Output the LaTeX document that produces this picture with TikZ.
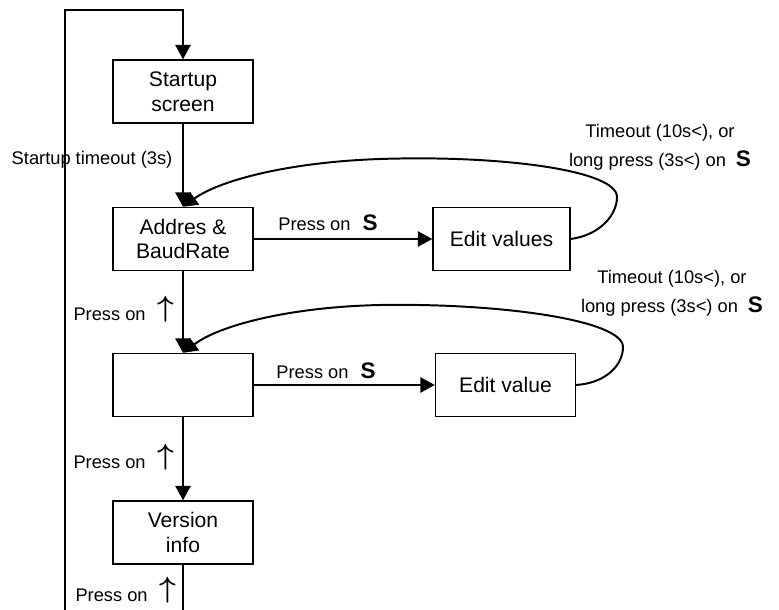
\documentclass[tikz,border=0pt]{standalone}
\usepackage{fontspec}
\setmainfont{Liberation Sans}
\usetikzlibrary{arrows.meta}

\newcommand{\keyS}{{\fontsize{16}{16}\selectfont\bfseries S}}
\newcommand{\keyUp}{\raisebox{3pt}{\fontsize{21}{21}\selectfont\boldmath$\uparrow$}}

\begin{document}
\begin{tikzpicture}[x=0.025cm,y=-0.025cm,
  stbox/.style={minimum width=3.5cm,minimum height=1.575cm,draw,line width=1pt,align=center,font=\fontsize{15}{17.5}\selectfont},
  flow/.style={line width=1.4pt,-{Triangle[length=0.36cm,width=0.38cm]}},
  lbl/.style={font=\fontsize{13}{20.6}\selectfont,inner sep=0pt,align=center}]
\useasboundingbox (0,0) rectangle (779,610);
\draw (183,91.5) node[stbox](start) {Startup\\screen};
\draw (183,239) node[stbox](addr) {Addres \&\\BaudRate};
\draw (501.5,239) node[stbox,minimum width=3.425cm](edit1) {Edit values};
\draw (183,385) node[stbox](mid) {};
\draw (505.5,385) node[stbox](edit2) {Edit value};
\draw (183,532.5) node[stbox](ver) {Version\\info};
\coordinate (botR) at (183,610);
\coordinate (botL) at (65,610);
\coordinate (topL) at (65,10);
\coordinate (topR) at (183,10);
\draw[flow] (start) -- (addr);
\draw[flow] (addr) -- (edit1);
\draw[flow] (addr) -- (mid);
\draw[flow] (mid) -- (edit2);
\draw[flow] (mid) -- (ver);
\draw[line width=1.4pt] (ver) -- (botR);
\draw[flow] (botL) -- (topL) -- (topR) -- (start);
\draw[flow] (edit1.east) .. controls (600,235) and (617,215) .. (617,197)
  .. controls (617,170) and (500,155) .. (380,159)
  .. controls (290,162) and (220,180) .. (addr.north);
\draw[flow] (edit2.east) .. controls (606,383) and (623,365) .. (623,347)
  .. controls (623,320) and (500,303) .. (380,305)
  .. controls (290,307) and (220,325) .. (mid.north);
\draw (92,160) node[lbl](lto) {Startup timeout (3s)};
\draw (328,231) node[lbl,anchor=base](lpress1) {Press on\hspace{0.3cm}\keyS};
\draw (326,379) node[lbl,anchor=base](lpress2) {Press on\hspace{0.3cm}\keyS};
\draw (660,147) node[lbl](lback1) {Timeout (10s<), or\\long press (3s<) on\hspace{0.25cm}\keyS};
\draw (672,293.5) node[lbl](lback2) {Timeout (10s<), or\\long press (3s<) on\hspace{0.25cm}\keyS};
\draw (124,321) node[lbl,anchor=base](lup1) {Press on\hspace{0.3cm}\keyUp};
\draw (124,469) node[lbl,anchor=base](lup2) {Press on\hspace{0.3cm}\keyUp};
\draw (126,602) node[lbl,anchor=base](lup3) {Press on\hspace{0.3cm}\keyUp};
\end{tikzpicture}
\end{document}
